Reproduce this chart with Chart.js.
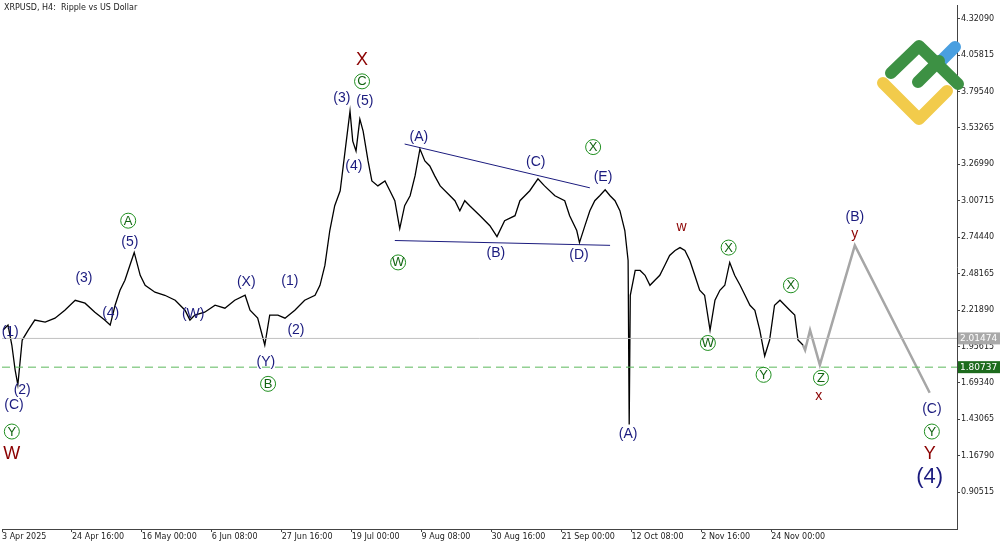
<!DOCTYPE html>
<html><head><meta charset="utf-8">
<script src="https://cdn.jsdelivr.net/npm/chart.js@4.4.1/dist/chart.umd.min.js"></script>
<style>html,body{margin:0;padding:0;background:#fff}#wrap{width:1000px;height:545px}</style>
</head><body><div id="wrap"><canvas id="c"></canvas></div>
<script>
// H4 bar index (0 = 3 Apr 2025) and price
const bars = [2,11,18,24,29,37,48,60,79,97,115,134,152,170,188,198,207,216,225,234,242,253,262,280,298,317,335,344,353,371,390,408,426,445,454,468,481,490,505,518,536,554,573,582,591,600,609,619,628,637,642,648,655,661,670,677,688,701,710,719,728,737,747,756,765,774,783,792,802,820,829,838,847,856,875,893,906,920,939,948,957,966,981,993,1012,1030,1039,1052,1057,1067,1076,1085,1094,1104,1113,1122,1131,1140,1146,1148,1150,1159,1168,1177,1186,1195,1204,1213,1222,1232,1241,1250,1259,1268,1277,1286,1296,1305,1314,1323,1332,1341,1351,1360,1369,1378,1387,1396,1405,1414,1424,1433,1442,1451,1457,1466];
const prices = [2.075,2.111,1.967,1.788,1.680,2.003,2.075,2.147,2.132,2.161,2.218,2.290,2.269,2.204,2.147,2.111,2.254,2.362,2.434,2.541,2.635,2.470,2.398,2.348,2.326,2.290,2.218,2.147,2.183,2.204,2.254,2.233,2.290,2.326,2.218,2.161,1.967,2.183,2.183,2.161,2.218,2.290,2.326,2.398,2.541,2.793,2.972,3.080,3.367,3.654,3.438,3.367,3.596,3.510,3.295,3.151,3.115,3.151,3.080,3.008,2.807,2.972,3.044,3.187,3.381,3.295,3.259,3.187,3.115,3.044,3.008,2.936,3.008,2.972,2.900,2.828,2.749,2.864,2.900,3.008,3.044,3.080,3.166,3.115,3.044,3.008,2.900,2.793,2.706,2.828,2.936,3.008,3.044,3.087,3.044,3.008,2.936,2.793,2.577,1.393,2.326,2.505,2.505,2.470,2.398,2.434,2.470,2.541,2.613,2.649,2.670,2.649,2.577,2.470,2.362,2.326,2.075,2.290,2.362,2.398,2.563,2.470,2.398,2.326,2.254,2.218,2.075,1.888,2.003,2.254,2.290,2.254,2.218,2.183,2.003,1.967];
const fcBars = [1466,1470,1479,1497,1561,1698];
const fcPrices = [1.967,1.931,2.075,1.824,2.685,1.623];
const upperLine = [[737,3.417],[1076,3.101]];
const lowerLine = [[719,2.721],[1113,2.686]];
const bidPrice = 2.01474, levelPrice = 1.80737;
const yTicks = [4.32090,4.05815,3.79540,3.53265,3.26990,3.00715,2.74440,2.48165,2.21890,1.95615,1.69340,1.43065,1.16790,0.90515];
const xTickLabels = ['3 Apr 2025','24 Apr 16:00','16 May 00:00','6 Jun 08:00','27 Jun 16:00','19 Jul 00:00','9 Aug 08:00','30 Aug 16:00','21 Sep 00:00','12 Oct 08:00','2 Nov 16:00','24 Nov 00:00'];
// wave labels: [text, bar, price, kind]  kind: b=blue bracket, r=red, c=circled, B=big blue
const waves = [
 ['(1)',15,2.061,'b'],['(2)',37,1.644,'b'],['(C)',22,1.537,'b'],['Y',18,1.343,'c'],['W',18,1.178,'r'],
 ['(3)',150,2.448,'b'],['(4)',199,2.197,'b'],['(5)',234,2.706,'b'],['A',231,2.864,'c'],
 ['(W)',350,2.190,'b'],['(X)',447,2.419,'b'],['(Y)',483,1.845,'b'],['B',487,1.687,'c'],
 ['(1)',527,2.427,'b'],['(2)',538,2.075,'b'],['(3)',622,3.747,'b'],['(5)',664,3.725,'b'],
 ['C',659,3.869,'c'],['X',659,4.020,'r'],['(4)',644,3.259,'b'],
 ['(A)',763,3.467,'b'],['W',725,2.563,'c'],['(B)',904,2.627,'b'],['(C)',977,3.288,'b'],
 ['(D)',1056,2.613,'b'],['(E)',1100,3.180,'b'],['X',1082,3.395,'c'],['(A)',1146,1.321,'b'],
 ['w',1244,2.821,'r'],['W',1292,1.982,'c'],['X',1330,2.670,'c'],['X',1444,2.398,'c'],
 ['Y',1394,1.752,'c'],['Z',1499,1.730,'c'],['x',1495,1.601,'r'],['(B)',1561,2.886,'b'],
 ['y',1561,2.764,'r'],['(C)',1702,1.501,'b'],['Y',1702,1.343,'c'],['Y',1698,1.178,'r'],['(4)',1698,1.013,'B']
];

const xy = (xs, ys) => xs.map((x, i) => ({ x: x, y: ys[i] }));
const pairs = p => p.map(a => ({ x: a[0], y: a[1] }));

const overlay = {
  id: 'overlay',
  afterDatasetsDraw(chart) {
    const { ctx, scales: { x, y }, chartArea: ca } = chart;
    ctx.save();
    // horizontal levels
    ctx.lineWidth = 1;
    ctx.strokeStyle = '#c0c0c0';
    ctx.beginPath(); ctx.moveTo(ca.left, y.getPixelForValue(bidPrice)); ctx.lineTo(ca.right, y.getPixelForValue(bidPrice)); ctx.stroke();
    ctx.strokeStyle = '#5cb85c'; ctx.setLineDash([8, 5]);
    ctx.beginPath(); ctx.moveTo(ca.left, y.getPixelForValue(levelPrice)); ctx.lineTo(ca.right, y.getPixelForValue(levelPrice)); ctx.stroke();
    ctx.setLineDash([]);
    // wave labels
    ctx.textAlign = 'center'; ctx.textBaseline = 'middle';
    waves.forEach(w => {
      const px = x.getPixelForValue(w[1]), py = y.getPixelForValue(w[2]);
      if (w[3] == 'c') {
        ctx.strokeStyle = '#1f8f1f'; ctx.lineWidth = 1;
        ctx.beginPath(); ctx.arc(px, py, 7.5, 0, Math.PI * 2); ctx.stroke();
        ctx.fillStyle = '#126312'; ctx.font = '13px "Liberation Sans"';
        ctx.fillText(w[0], px, py + 0.5);
      } else if (w[3] == 'r') {
        ctx.fillStyle = '#8b0000'; ctx.font = (w[0] == w[0].toLowerCase() ? '14px' : '18px') + ' "Liberation Sans"';
        ctx.fillText(w[0], px, py);
      } else {
        ctx.fillStyle = '#1b1b7e';
        ctx.font = (w[3] == 'B' ? '22px' : '14px') + ' "Liberation Sans"';
        ctx.fillText(w[0], px, py);
      }
    });
    ctx.restore();
  },
  afterDraw(chart) {
    const { ctx, scales: { y }, chartArea: ca } = chart;
    ctx.save();
    // price boxes on the axis
    [[bidPrice, '#a9a9a9'], [levelPrice, '#1d6b1d']].forEach(b => {
      const py = y.getPixelForValue(b[0]);
      ctx.fillStyle = b[1]; ctx.fillRect(ca.right + 1, py - 6, 42, 12);
      ctx.fillStyle = '#fff'; ctx.font = '9px "DejaVu Sans"'; ctx.textAlign = 'left'; ctx.textBaseline = 'middle';
      ctx.fillText(b[0].toFixed(5), ca.right + 3, py + 0.5);
    });
    // title
    ctx.fillStyle = '#222'; ctx.font = '8px "DejaVu Sans"'; ctx.textAlign = 'left'; ctx.textBaseline = 'top';
    ctx.fillText('XRPUSD, H4:  Ripple vs US Dollar', 4, 4);
    // logo
    ctx.lineCap = 'round'; ctx.lineJoin = 'round'; ctx.lineWidth = 12;
    ctx.strokeStyle = '#f2cb4b';
    ctx.beginPath(); ctx.moveTo(883, 83); ctx.lineTo(919, 119); ctx.lineTo(947, 91); ctx.stroke();
    ctx.strokeStyle = '#4a9fe0';
    ctx.beginPath(); ctx.moveTo(940, 62); ctx.lineTo(955, 47); ctx.stroke();
    ctx.strokeStyle = '#3d9144';
    ctx.beginPath(); ctx.moveTo(891, 73); ctx.lineTo(919, 46); ctx.lineTo(958, 84); ctx.stroke();
    ctx.beginPath(); ctx.moveTo(918, 82); ctx.lineTo(939, 61); ctx.stroke();
    ctx.restore();
  }
};

new Chart(document.getElementById('c'), {
  type: 'line',
  data: {
    datasets: [
      { data: xy(bars, prices), borderColor: '#000', borderWidth: 1.3, pointRadius: 0, tension: 0 },
      { data: xy(fcBars, fcPrices), borderColor: '#a6a6a6', borderWidth: 2.5, pointRadius: 0, tension: 0 },
      { data: pairs(upperLine), borderColor: '#1b1b7e', borderWidth: 1, pointRadius: 0 },
      { data: pairs(lowerLine), borderColor: '#1b1b7e', borderWidth: 1, pointRadius: 0 }
    ]
  },
  options: {
    responsive: true, maintainAspectRatio: false, animation: false,
    layout: { padding: { left: 2, top: 4, right: 0, bottom: 0 } },
    plugins: { legend: { display: false }, tooltip: { enabled: false } },
    scales: {
      x: {
        type: 'linear', min: 0, max: 1748,
        afterBuildTicks: s => { s.ticks = xTickLabels.map((l, i) => ({ value: i * 128 })); },
        afterFit: s => { s.height = 16; },
        ticks: { autoSkip: false, maxRotation: 0, align: 'start', padding: 0, color: '#222', font: { size: 8, family: 'DejaVu Sans' },
          callback: (v, i) => xTickLabels[i] },
        grid: { drawOnChartArea: false, tickLength: 3, color: '#444' },
        border: { color: '#444' }
      },
      y: {
        position: 'right', min: 0.640, max: 4.414,
        afterBuildTicks: s => { s.ticks = yTicks.map(v => ({ value: v })); },
        afterFit: s => { s.width = 43; },
        ticks: { padding: 1, color: '#222', font: { size: 8, family: 'DejaVu Sans' }, callback: v => v.toFixed(5) },
        grid: { drawOnChartArea: false, tickLength: 3, color: '#444' },
        border: { color: '#444' }
      },
      y2: { display: false }
    }
  },
  plugins: [overlay]
});
</script></body></html>
